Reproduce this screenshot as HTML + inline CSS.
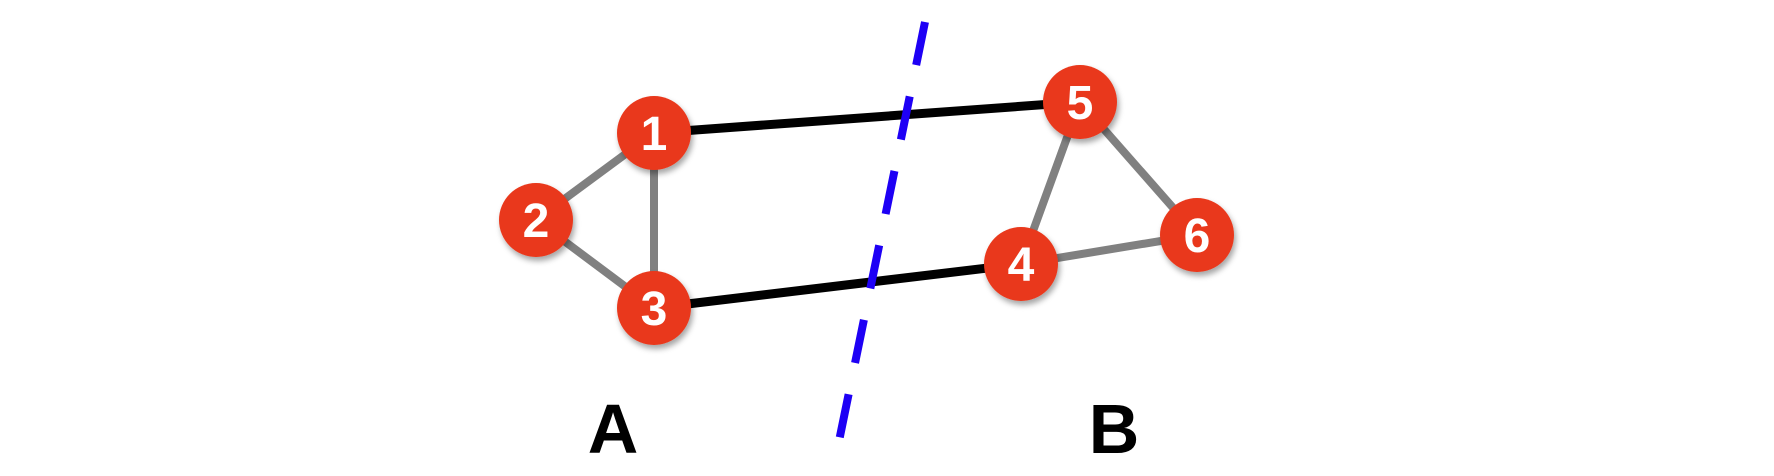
<!DOCTYPE html>
<html><head><style>
html,body{margin:0;padding:0;background:#fff;}
svg{display:block}
text{font-family:"Liberation Sans",Arial,sans-serif;font-weight:bold;}
</style></head><body>
<svg width="1774" height="476" viewBox="0 0 1774 476" xmlns="http://www.w3.org/2000/svg">
<defs>
<filter id="sh" x="-30%" y="-30%" width="160%" height="160%">
<feDropShadow dx="2" dy="4" stdDeviation="3" flood-color="#000" flood-opacity="0.35"/>
</filter>
</defs>
<g stroke="#808080" stroke-width="8">
<line x1="654" y1="133" x2="536" y2="220"/>
<line x1="536" y1="220" x2="654" y2="308"/>
<line x1="654" y1="133" x2="654" y2="308"/>
<line x1="1080" y1="102" x2="1021" y2="264"/>
<line x1="1080" y1="102" x2="1197" y2="235"/>
<line x1="1021" y1="264" x2="1197" y2="235"/>
</g>
<g stroke="#000" stroke-width="9">
<line x1="654" y1="133" x2="1080" y2="102"/>
<line x1="654" y1="308" x2="1021" y2="264"/>
</g>
<line x1="925" y1="22" x2="838" y2="446" stroke="#1e00f5" stroke-width="8" stroke-dasharray="44 32"/>
<g fill="#e9391b" filter="url(#sh)">
<circle cx="654" cy="133" r="37"/>
<circle cx="536" cy="220" r="37"/>
<circle cx="654" cy="308" r="37"/>
<circle cx="1021" cy="264" r="37"/>
<circle cx="1080" cy="102" r="37"/>
<circle cx="1197" cy="235" r="37"/>
</g>
<g fill="#fff" font-size="48" text-anchor="middle">
<text x="654" y="150">1</text>
<text x="536" y="237">2</text>
<text x="654" y="325">3</text>
<text x="1021" y="281">4</text>
<text x="1080" y="119">5</text>
<text x="1197" y="252">6</text>
</g>
<g fill="#000" font-size="70" text-anchor="middle">
<text x="613" y="453">A</text>
<text x="1114" y="453">B</text>
</g>
</svg>
</body></html>
